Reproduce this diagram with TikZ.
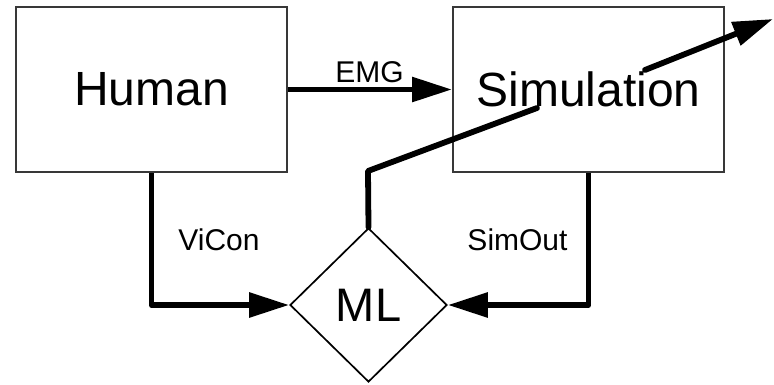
\documentclass[tikz,border=0pt]{standalone}
\usepackage{fontspec}
\setmainfont{Liberation Sans}
\usetikzlibrary{arrows.meta,shapes.geometric}

\tikzset{
  block/.style={draw=black!78, line width=2pt, fill=white, inner sep=0pt,
    font=\fontsize{48}{48}\selectfont},
  decision/.style={diamond, draw=black, line width=1.7pt, fill=white, inner sep=0pt,
    minimum width=157pt, minimum height=154pt, font=\fontsize{47}{47}\selectfont},
  label/.style={anchor=base, inner sep=0pt, font=\fontsize{30}{30}\selectfont},
  conn/.style={line width=5.8pt, line join=round,
    -{Triangle[length=40pt,width=24pt]}},
  wire/.style={line width=5.8pt, line join=round, line cap=round}
}

\begin{document}
\begin{tikzpicture}[x=1pt,y=-1pt]
  \useasboundingbox (0,0) rectangle (774,384);

  % the two process blocks and the learning step
  \node[block, minimum width=271pt, minimum height=165pt] (human) at (151.5,89.5) {Human};
  \node[block, minimum width=271pt, minimum height=165pt] (sim) at (588.5,89.5) {Simulation};
  \node[decision] (ml) at (368.5,305) {ML};

  % signal flow between the blocks
  \draw[conn] (human.east) -- (sim.west);
  \draw[conn] (human.south) |- (ml.west);
  \draw[conn] (sim.south) |- (ml.east);

  % output of the learning step, interrupted where it crosses the title
  \coordinate (bend) at (368,171);
  \coordinate (gapA) at (537,108);
  \coordinate (gapB) at (645,70);
  \coordinate (tip) at (773,19);
  \draw[wire] (ml.north) -- (bend) -- (gapA);
  \draw[wire, -{Triangle[length=40pt,width=24pt]}] (gapB) -- (tip);

  % signal names
  \node[label] (emg) at (369.5,82) {EMG};
  \node[label] (vicon) at (219,250) {ViCon};
  \node[label] (simout) at (517.5,250) {SimOut};
\end{tikzpicture}
\end{document}
